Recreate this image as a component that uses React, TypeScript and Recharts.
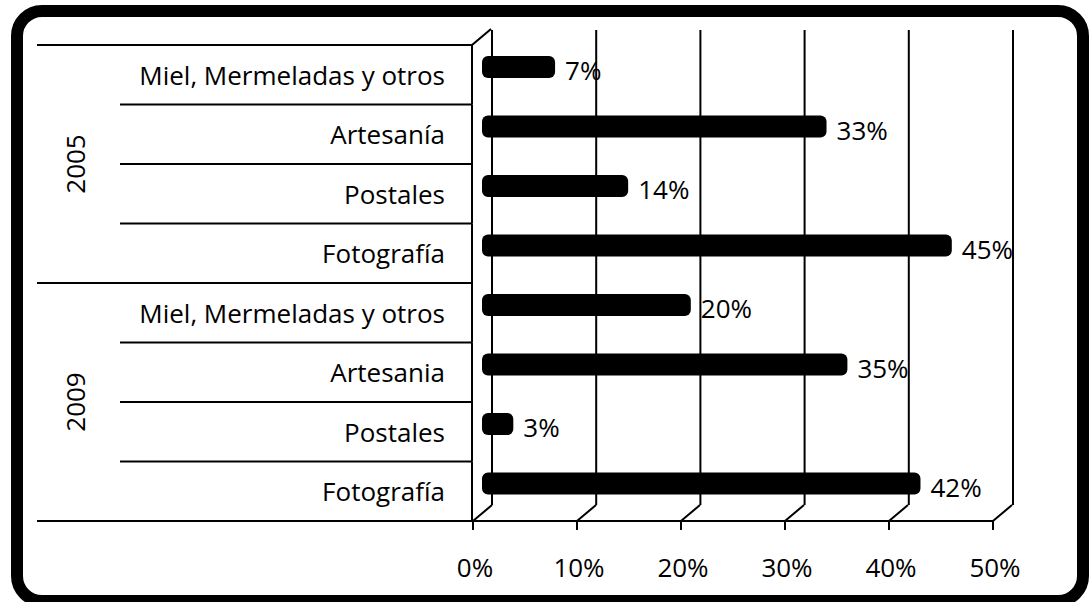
import React from 'react';
import { BarChart, Bar, XAxis, YAxis, CartesianGrid, LabelList } from 'recharts';

// ---------- data ----------
const years = ['2005', '2009'];
const categories2005 = ['Miel, Mermeladas y otros', 'Artesanía', 'Postales', 'Fotografía'];
const categories2009 = ['Miel, Mermeladas y otros', 'Artesania', 'Postales', 'Fotografía'];
const values2005 = [0.07, 0.33, 0.14, 0.45];
const values2009 = [0.2, 0.35, 0.03, 0.42];
const percentTicks = [0, 0.1, 0.2, 0.3, 0.4, 0.5];

const data = [
  ...categories2005.map((c, i) => ({ key: `${years[0]}-${i}`, year: years[0], label: c, value: values2005[i], first: i === 0 })),
  ...categories2009.map((c, i) => ({ key: `${years[1]}-${i}`, year: years[1], label: c, value: values2009[i], first: i === 0 })),
];

// ---------- layout ----------
const W = 1089;
const H = 602;
const PLOT_LEFT = 473;
const PLOT_RIGHT = 1013;
const PLOT_TOP = 30;
const PLOT_BOTTOM = 521;
const FRONT_PAD_R = 20;
const BAR_PAD_L = 9;
const BAR_PAD_R = 9;
const GRID_PAD_L = 19;
const LABEL_PAD_TOP = 15;
const BAR_PAD_TOP = 7;
const BAR_PAD_BOTTOM = 8;
const DEPTH_X = 19;
const DEPTH_Y = 16;
const ROW_H = (PLOT_BOTTOM - PLOT_TOP - LABEL_PAD_TOP) / data.length;
const FRONT_STEP = (PLOT_RIGHT - PLOT_LEFT - FRONT_PAD_R) / (percentTicks.length - 1);
const WALL_X = 472;
const LABEL_RIGHT = 445;
const FONT = '"Open Sans", "Noto Sans", sans-serif';
const FS = 26;

const fmt = (v: number) => `${Math.round(v * 100)}%`;

function CategoryTick(props: any) {
  const { y, payload } = props;
  const idx = data.findIndex((d) => d.key === payload.value);
  const row = data[idx];
  if (!row) return null;
  const top = y - ROW_H / 2;
  const bottom = y + ROW_H / 2;
  const isLast = idx === data.length - 1;
  return (
    <g>
      <line x1={row.first ? 37 : 120} x2={WALL_X} y1={top} y2={top} stroke="#000" strokeWidth={2} />
      {isLast && <line x1={37} x2={WALL_X} y1={bottom} y2={bottom} stroke="#000" strokeWidth={2} />}
      <line x1={WALL_X} x2={WALL_X} y1={top} y2={bottom} stroke="#000" strokeWidth={2} />
      {idx === 0 && (
        <line x1={WALL_X} y1={top} x2={WALL_X + DEPTH_X} y2={top - DEPTH_Y} stroke="#000" strokeWidth={2} />
      )}
      <text x={LABEL_RIGHT} y={y} textAnchor="end" dominantBaseline="central" fontFamily={FONT} fontSize={FS} fill="#000">
        {row.label}
      </text>
      {row.first && (
        <text
          transform={`translate(75, ${top + 2 * ROW_H}) rotate(-90)`}
          textAnchor="middle"
          dominantBaseline="central"
          fontFamily={FONT}
          fontSize={FS}
          fill="#000"
        >
          {row.year}
        </text>
      )}
    </g>
  );
}

function PercentTick(props: any) {
  const { x, payload } = props;
  const i = percentTicks.indexOf(payload.value);
  const base = PLOT_BOTTOM;
  return (
    <g>
      {i < percentTicks.length - 1 && (
        <line x1={x} x2={x + FRONT_STEP} y1={base} y2={base} stroke="#000" strokeWidth={2} />
      )}
      <line x1={x} x2={x} y1={base} y2={base + 9} stroke="#000" strokeWidth={2} />
      <line x1={x} y1={base} x2={x + DEPTH_X} y2={base - DEPTH_Y} stroke="#000" strokeWidth={2} />
      <text x={x + 2} y={567} textAnchor="middle" dominantBaseline="central" fontFamily={FONT} fontSize={FS} fill="#000">
        {fmt(payload.value)}
      </text>
    </g>
  );
}

function ValueLabel(props: any) {
  const { x, y, width, height, value } = props;
  return (
    <text
      x={x + width + 10}
      y={y + height / 2 + 3}
      dominantBaseline="central"
      fontFamily={FONT}
      fontSize={FS}
      fill="#000"
    >
      {fmt(value)}
    </text>
  );
}

export default function App() {
  return (
    <div style={{ position: 'absolute', left: 0, top: 0, width: W, height: H, background: '#fff' }}>
      <BarChart
        width={W}
        height={H}
        data={data}
        layout="vertical"
        margin={{ top: PLOT_TOP, right: W - PLOT_RIGHT, bottom: 0, left: 0 }}
      >
        <CartesianGrid
          xAxisId="grid"
          yAxisId="labels"
          horizontal={false}
          syncWithTicks
          vertical={(p: any) => (
            <line key={`g-${p.x1}`} x1={p.x1} x2={p.x2} y1={p.y1} y2={p.y2 - DEPTH_Y} stroke="#000" strokeWidth={2} />
          )}
        />
        <XAxis
          xAxisId="front"
          type="number"
          domain={[0, 0.5]}
          allowDataOverflow
          ticks={percentTicks}
          interval={0}
          padding={{ left: 0, right: FRONT_PAD_R }}
          height={H - PLOT_BOTTOM}
          axisLine={false}
          tickLine={false}
          tick={(p: any) => <PercentTick {...p} />}
        />
        <XAxis
          xAxisId="bars"
          type="number"
          domain={[0, 0.5]}
          allowDataOverflow
          hide
          padding={{ left: BAR_PAD_L, right: BAR_PAD_R }}
        />
        <XAxis
          xAxisId="grid"
          type="number"
          domain={[0, 0.5]}
          allowDataOverflow
          ticks={percentTicks}
          interval={0}
          hide
          padding={{ left: GRID_PAD_L, right: 0 }}
        />
        <YAxis
          yAxisId="labels"
          type="category"
          dataKey="key"
          width={PLOT_LEFT}
          interval={0}
          padding={{ top: LABEL_PAD_TOP, bottom: 0 }}
          axisLine={false}
          tickLine={false}
          tick={(p: any) => <CategoryTick {...p} />}
        />
        <YAxis
          yAxisId="bars"
          type="category"
          dataKey="key"
          hide
          padding={{ top: BAR_PAD_TOP, bottom: BAR_PAD_BOTTOM }}
        />
        <Bar
          dataKey="value"
          xAxisId="bars"
          yAxisId="bars"
          fill="#000"
          barSize={22}
          radius={6}
          isAnimationActive={false}
        >
          <LabelList dataKey="value" content={(p: any) => <ValueLabel {...p} />} />
        </Bar>
      </BarChart>
      <svg
        width={W}
        height={H}
        style={{ position: 'absolute', left: 0, top: 0, pointerEvents: 'none', overflow: 'hidden' }}
      >
        <rect x={17} y={11} width={1066} height={590} rx={25} ry={25} fill="none" stroke="#000" strokeWidth={12} />
      </svg>
    </div>
  );
}
